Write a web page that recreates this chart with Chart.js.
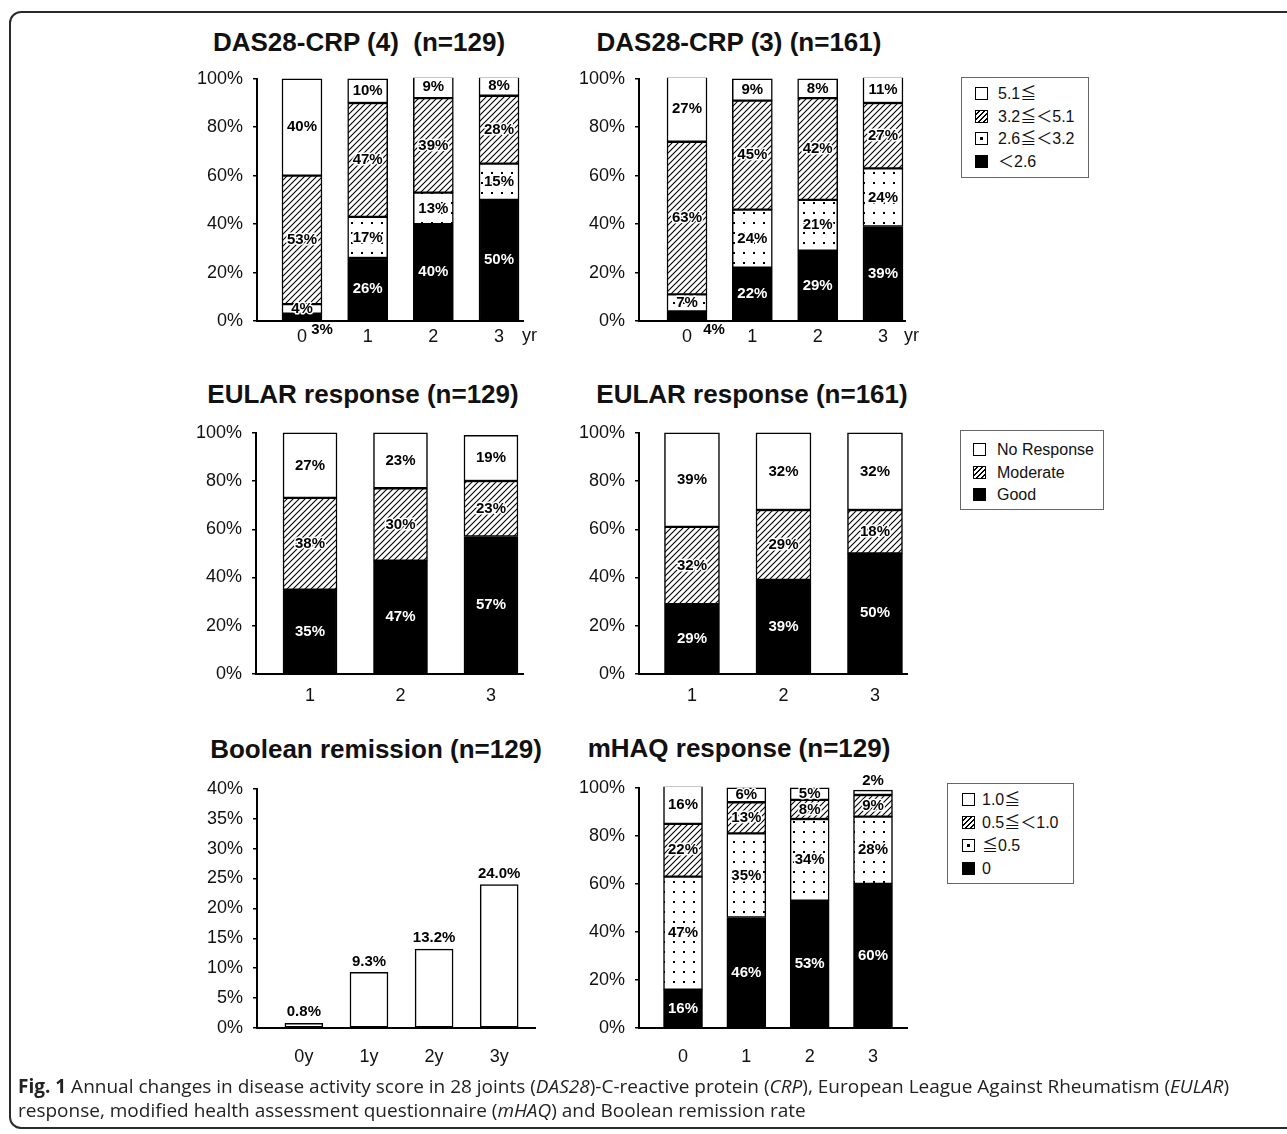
<!DOCTYPE html>
<html>
<head>
<meta charset="utf-8">
<script src="https://cdn.jsdelivr.net/npm/chart.js@4.4.0/dist/chart.umd.min.js"></script>
<style>
  body { margin:0; background:#fff; width:1287px; height:1134px; overflow:hidden; position:relative;
         font-family:"Liberation Sans", Arial, "Noto Sans CJK JP", sans-serif; color:#111; }
  .frame { position:absolute; left:9px; top:11px; width:1300px; height:1114px; border:2px solid #2a2a2a; border-radius:12px; }
  canvas { position:absolute; }
  .ttl { position:absolute; width:400px; text-align:center; font-weight:bold; font-size:26px; line-height:28px; white-space:nowrap; }
  .lg { position:absolute; border:1.5px solid #666; background:#fff; font-size:16px; box-sizing:border-box; }
  .lg div { height:22.5px; line-height:22.5px; white-space:nowrap; }
  .sw { display:inline-block; width:11px; height:11px; border:1.5px solid #000; vertical-align:middle; position:relative; top:-1px; }
  .sw.white { background:#fff; }
  .sw.hatch { background:repeating-linear-gradient(135deg, #fff 0 2px, #000 2px 3.5px); }
  .sw.dot { background:radial-gradient(circle, #000 0 1.4px, #fff 1.8px); }
  .sw.black { background:#000; }
  .cap { position:absolute; left:18px; top:1074px; width:1250px; font-family:"Open Sans", sans-serif; font-size:19px; line-height:24px; color:#222; }
</style>
</head>
<body>
<div class="frame"></div>

<div class="ttl" style="left:159px;top:28px">DAS28-CRP (4)&nbsp; (n=129)</div>
<div class="ttl" style="left:539px;top:28px">DAS28-CRP (3) (n=161)</div>
<div class="ttl" style="left:163px;top:380px">EULAR response (n=129)</div>
<div class="ttl" style="left:552px;top:380px">EULAR response (n=161)</div>
<div class="ttl" style="left:176px;top:735px">Boolean remission (n=129)</div>
<div class="ttl" style="left:539px;top:734px">mHAQ response (n=129)</div>

<canvas id="c1"></canvas>
<canvas id="c2"></canvas>
<canvas id="c3"></canvas>
<canvas id="c4"></canvas>
<canvas id="c5"></canvas>
<canvas id="c6"></canvas>

<div class="lg" style="left:961px;top:77px;width:128px;height:101px;padding:5px 0 0 13px">
  <div><span class="sw white"></span><span style="margin-left:10px">5.1≦</span></div>
  <div><span class="sw hatch"></span><span style="margin-left:10px">3.2≦＜5.1</span></div>
  <div><span class="sw dot"></span><span style="margin-left:10px">2.6≦＜3.2</span></div>
  <div><span class="sw black"></span><span style="margin-left:10px">＜2.6</span></div>
</div>
<div class="lg" style="left:960px;top:430px;width:144px;height:80px;padding:8px 0 0 12px">
  <div><span class="sw white"></span><span style="margin-left:11px">No Response</span></div>
  <div><span class="sw hatch"></span><span style="margin-left:11px">Moderate</span></div>
  <div><span class="sw black"></span><span style="margin-left:11px">Good</span></div>
</div>
<div class="lg" style="left:947px;top:783px;width:127px;height:101px;padding:4px 0 0 14px">
  <div style="height:23px;line-height:23px"><span class="sw white"></span><span style="margin-left:7px">1.0≦</span></div>
  <div style="height:23px;line-height:23px"><span class="sw hatch"></span><span style="margin-left:7px">0.5≦＜1.0</span></div>
  <div style="height:23px;line-height:23px"><span class="sw dot"></span><span style="margin-left:7px">≦0.5</span></div>
  <div style="height:23px;line-height:23px"><span class="sw black"></span><span style="margin-left:7px">0</span></div>
</div>

<div class="cap"><b>Fig. 1</b> Annual changes in disease activity score in 28 joints (<i>DAS28</i>)-C-reactive protein (<i>CRP</i>), European League Against Rheumatism (<i>EULAR</i>) response, modified health assessment questionnaire (<i>mHAQ</i>) and Boolean remission rate</div>

<script>
// ---- data (percent of patients) ----
const yearsA = ['0', '1', '2', '3'];
const das4Rem  = [3, 26, 40, 50];   // <2.6
const das4Low  = [4, 17, 13, 15];   // 2.6-3.2
const das4Mod  = [53, 47, 39, 28];  // 3.2-5.1
const das4High = [40, 10, 9, 8];    // >=5.1

const das3Rem  = [4, 22, 29, 39];
const das3Low  = [7, 24, 21, 24];
const das3Mod  = [63, 45, 42, 27];
const das3High = [27, 9, 8, 11];

const yearsB = ['1', '2', '3'];
const eul129Good = [35, 47, 57];
const eul129Mod  = [38, 30, 23];
const eul129None = [27, 23, 19];

const eul161Good = [29, 39, 50];
const eul161Mod  = [32, 29, 18];
const eul161None = [39, 32, 32];

const boolYears = ['0y', '1y', '2y', '3y'];
const boolRate  = [0.8, 9.3, 13.2, 24.0];

const haqYears = ['0', '1', '2', '3'];
const haqZero  = [16, 46, 53, 60];  // 0
const haqLow   = [47, 35, 34, 28];  // <=0.5
const haqMod   = [22, 13, 8, 9];    // 0.5-1.0
const haqHigh  = [16, 6, 5, 2];     // >=1.0

const FONT = '"Liberation Sans", Arial, sans-serif';

// fill patterns
function hatchPattern() {
  const c = document.createElement('canvas'); c.width = c.height = 6;
  const g = c.getContext('2d');
  g.fillStyle = '#fff'; g.fillRect(0, 0, 6, 6);
  g.strokeStyle = '#000'; g.lineWidth = 1.1;
  g.beginPath();
  g.moveTo(-1, 7); g.lineTo(7, -1);
  g.moveTo(-1, 1); g.lineTo(1, -1);
  g.moveTo(5, 7); g.lineTo(7, 5);
  g.stroke();
  return g.createPattern(c, 'repeat');
}
function dotPattern() {
  const c = document.createElement('canvas'); c.width = c.height = 10;
  const g = c.getContext('2d');
  g.fillStyle = '#fff'; g.fillRect(0, 0, 10, 10);
  g.fillStyle = '#000'; g.fillRect(4, 4, 2, 2);
  return g.createPattern(c, 'repeat');
}
const HATCH = hatchPattern();
const DOTS = dotPattern();

// labels drawn on top of the bar segments
const segLabels = {
  id: 'segLabels',
  afterDatasetsDraw(chart, args, opts) {
    const ctx = chart.ctx;
    ctx.save();
    ctx.font = 'bold 15px ' + FONT;
    ctx.textAlign = 'center';
    ctx.textBaseline = 'middle';
    ctx.lineJoin = 'round';
    chart.data.datasets.forEach((ds, di) => {
      chart.getDatasetMeta(di).data.forEach((bar, i) => {
        const v = ds.data[i].y;
        let x = bar.x, y = (bar.y + bar.base) / 2;
        if (opts.above) y = bar.y - 11;
        const mv = (opts.moves || []).find(m => m.ds === di && m.i === i);
        if (mv) {
          x += mv.dx;
          y = mv.where === 'below' ? bar.base + mv.dy : bar.y - mv.dy;
        }
        const txt = opts.fmt ? opts.fmt(v) : v + '%';
        if (ds.labelWhite && !mv) {
          ctx.fillStyle = '#fff';
        } else {
          ctx.strokeStyle = '#fff'; ctx.lineWidth = 3;
          ctx.strokeText(txt, x, y);
          ctx.fillStyle = '#000';
        }
        ctx.fillText(txt, x, y);
      });
    });
    if (opts.unit) {
      ctx.font = '18px ' + FONT;
      ctx.fillStyle = '#111';
      ctx.textAlign = 'left';
      ctx.fillText(opts.unit, chart.chartArea.right - 1, chart.chartArea.bottom + 15);
    }
    ctx.restore();
  }
};
Chart.register(segLabels);

function series(vals, fill, white) {
  return { data: vals.map((v, i) => ({ x: i, y: v })), backgroundColor: fill, labelWhite: !!white };
}

// box: axis x, 100% y, 0% y, right end of x axis (page pixels)
function makeChart(id, box, cats, sets, o) {
  const cv = document.getElementById(id);
  const W = box.right - box.left + 100, H = box.bottom - box.top + 70;
  cv.width = W; cv.height = H;
  cv.style.left = (box.left - 80) + 'px';
  cv.style.top = (box.top - 20) + 'px';
  sets.forEach(s => Object.assign(s, {
    borderColor: '#000', borderWidth: 1.5, borderSkipped: false, barThickness: o.barW, clip: 1
  }));
  return new Chart(cv, {
    type: 'bar',
    data: { datasets: sets },
    options: {
      responsive: false,
      animation: false,
      layout: { padding: { top: 20, right: 20, left: 0, bottom: 0 } },
      plugins: {
        legend: { display: false },
        tooltip: { enabled: false },
        segLabels: { moves: o.moves, above: o.above, fmt: o.fmt, unit: o.unit }
      },
      scales: {
        x: {
          type: 'linear', stacked: true, offset: false, min: o.xmin, max: o.xmax,
          afterFit: s => { s.height = 50; },
          grid: { display: false },
          border: { color: '#000', width: 2 },
          ticks: {
            stepSize: 1, includeBounds: false, autoSkip: false, maxRotation: 0, padding: o.xpad,
            color: '#111', font: { size: 18, family: FONT },
            callback: v => cats[Math.round(v)] ?? ''
          }
        },
        y: {
          stacked: true, min: 0, max: o.ymax,
          afterFit: s => { s.width = 80; },
          grid: { drawOnChartArea: false, drawTicks: true, tickLength: 4, color: '#000', lineWidth: 1.5 },
          border: { color: '#000', width: 2 },
          ticks: {
            stepSize: o.ystep, padding: 10, color: '#111', font: { size: 18, family: FONT },
            callback: v => v + '%'
          }
        }
      }
    }
  });
}

makeChart('c1', { left: 257, top: 78, bottom: 321, right: 523 }, yearsA, [
  series(das4Rem, '#000', true), series(das4Low, DOTS), series(das4Mod, HATCH), series(das4High, '#fff')
], { xmin: -0.685, xmax: 3.365, barW: 40, ymax: 100, ystep: 20, xpad: -3, unit: 'yr',
     moves: [{ ds: 0, i: 0, where: 'below', dx: 20, dy: 10 }] });

makeChart('c2', { left: 639, top: 78, bottom: 321, right: 905 }, yearsA, [
  series(das3Rem, '#000', true), series(das3Low, DOTS), series(das3Mod, HATCH), series(das3High, '#fff')
], { xmin: -0.735, xmax: 3.337, barW: 40, ymax: 100, ystep: 20, xpad: -3, unit: 'yr',
     moves: [{ ds: 0, i: 0, where: 'below', dx: 27, dy: 10 }] });

makeChart('c3', { left: 256, top: 432, bottom: 674, right: 523 }, yearsB, [
  series(eul129Good, '#000', true), series(eul129Mod, HATCH), series(eul129None, '#fff')
], { xmin: -0.597, xmax: 2.354, barW: 54, ymax: 100, ystep: 20, xpad: 3 });

makeChart('c4', { left: 639, top: 432, bottom: 674, right: 907 }, yearsB, [
  series(eul161Good, '#000', true), series(eul161Mod, HATCH), series(eul161None, '#fff')
], { xmin: -0.579, xmax: 2.35, barW: 55, ymax: 100, ystep: 20, xpad: 3 });

makeChart('c5', { left: 257, top: 788, bottom: 1028, right: 535 }, boolYears, [
  series(boolRate, '#fff')
], { xmin: -0.72, xmax: 3.55, barW: 38, ymax: 40, ystep: 5, xpad: 10, above: true,
     fmt: v => v.toFixed(1) + '%' });

makeChart('c6', { left: 639, top: 787, bottom: 1028, right: 907 }, haqYears, [
  series(haqZero, '#000', true), series(haqLow, DOTS), series(haqMod, HATCH), series(haqHigh, '#fff')
], { xmin: -0.695, xmax: 3.537, barW: 39, ymax: 100, ystep: 20, xpad: 10,
     moves: [{ ds: 3, i: 3, where: 'above', dx: 0, dy: 9 }] });
</script>
</body>
</html>
